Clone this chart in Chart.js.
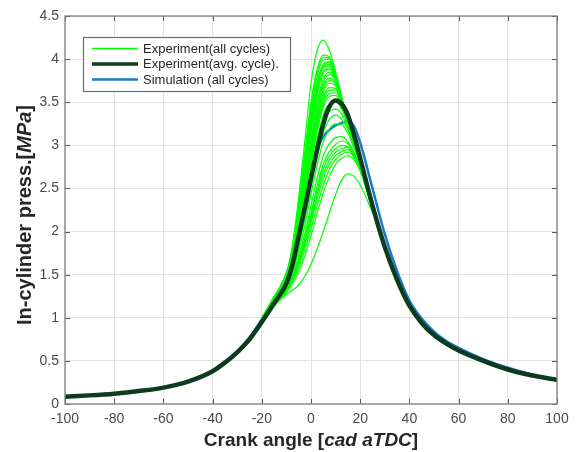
<!DOCTYPE html>
<html>
<head>
<meta charset="utf-8">
<script src="https://cdn.jsdelivr.net/npm/chart.js@4/dist/chart.umd.min.js"></script>
<style>
  html, body { margin: 0; padding: 0; background: #ffffff; }
  #wrap { width: 577px; height: 452px; }
</style>
</head>
<body>
<div id="wrap"><canvas id="pressChart" width="577" height="452"></canvas></div>
<script>
// crank angle grid for the full-range curves [cad aTDC]
const angles = [-100, -90, -80, -70, -60, -50, -40, -35, -30, -25, -20, -15, -10, -7.5, -5, -2.5,
    0, 2.5, 5, 7.5, 10, 12.5, 15, 17.5, 20, 25, 30, 35, 40, 45, 50, 55, 60, 70, 80, 90, 100];

// averaged experimental cycle [MPa]
const avgCycle = [0.085, 0.10, 0.12, 0.15, 0.19, 0.26, 0.38, 0.48, 0.60, 0.75, 0.95, 1.17, 1.40, 1.62, 1.95, 2.28,
    2.62, 2.95, 3.25, 3.45, 3.52, 3.48, 3.35, 3.12, 2.85, 2.30, 1.82, 1.44, 1.14, 0.94, 0.80, 0.70, 0.62, 0.50, 0.40, 0.33, 0.28];

// simulation [MPa]
const simCycle = [0.085, 0.10, 0.12, 0.15, 0.19, 0.26, 0.38, 0.48, 0.61, 0.77, 0.98, 1.22, 1.50, 1.72, 2.02, 2.36,
    2.68, 2.95, 3.10, 3.18, 3.23, 3.26, 3.28, 3.22, 3.03, 2.50, 1.97, 1.54, 1.20, 0.99, 0.84, 0.73, 0.65, 0.52, 0.42, 0.34, 0.28];

// combustion window for the single measured cycles
const cycleAngles = [-20, -15, -10, -7.5, -5, -2.5, 0, 2.5, 5, 7.5, 10, 12.5, 15, 17.5, 20, 25];

// single measured cycles [MPa]
const cycles = [
    [1.00, 1.25, 1.52, 1.85, 2.40, 3.05, 3.72, 4.10, 4.22, 4.10, 3.85, 3.55, 3.25, 3.00, 2.80, 2.28],
    [1.00, 1.24, 1.50, 1.82, 2.32, 2.92, 3.50, 3.88, 4.05, 4.02, 3.82, 3.52, 3.24, 3.00, 2.80, 2.28],
    [1.00, 1.24, 1.50, 1.81, 2.30, 2.89, 3.46, 3.85, 4.02, 4.01, 3.82, 3.53, 3.24, 3.00, 2.80, 2.28],
    [0.99, 1.23, 1.49, 1.79, 2.26, 2.84, 3.40, 3.80, 3.99, 4.00, 3.83, 3.54, 3.25, 3.00, 2.80, 2.28],
    [0.99, 1.22, 1.48, 1.76, 2.20, 2.76, 3.32, 3.72, 3.94, 3.97, 3.82, 3.55, 3.26, 3.01, 2.81, 2.28],
    [0.99, 1.23, 1.48, 1.77, 2.22, 2.78, 3.33, 3.73, 3.93, 3.96, 3.81, 3.55, 3.26, 3.01, 2.81, 2.28],
    [0.98, 1.22, 1.47, 1.74, 2.16, 2.70, 3.25, 3.66, 3.90, 3.94, 3.80, 3.54, 3.26, 3.01, 2.81, 2.28],
    [0.99, 1.22, 1.47, 1.75, 2.18, 2.72, 3.27, 3.68, 3.90, 3.92, 3.79, 3.54, 3.26, 3.01, 2.81, 2.28],
    [0.98, 1.21, 1.46, 1.72, 2.12, 2.63, 3.16, 3.58, 3.84, 3.90, 3.79, 3.54, 3.26, 3.01, 2.81, 2.28],
    [0.98, 1.21, 1.46, 1.73, 2.13, 2.65, 3.19, 3.61, 3.85, 3.88, 3.77, 3.53, 3.26, 3.01, 2.81, 2.28],
    [0.98, 1.21, 1.45, 1.70, 2.08, 2.56, 3.07, 3.50, 3.77, 3.85, 3.77, 3.54, 3.26, 3.02, 2.82, 2.29],
    [0.98, 1.21, 1.45, 1.69, 2.06, 2.53, 3.03, 3.46, 3.73, 3.82, 3.75, 3.53, 3.26, 3.02, 2.82, 2.29],
    [0.97, 1.20, 1.44, 1.68, 2.04, 2.50, 2.99, 3.41, 3.69, 3.78, 3.72, 3.52, 3.26, 3.02, 2.82, 2.29],
    [0.97, 1.20, 1.44, 1.67, 2.02, 2.47, 2.95, 3.37, 3.65, 3.75, 3.71, 3.52, 3.26, 3.02, 2.82, 2.29],
    [0.97, 1.20, 1.43, 1.66, 2.00, 2.44, 2.91, 3.33, 3.61, 3.72, 3.69, 3.51, 3.26, 3.02, 2.82, 2.29],
    [0.97, 1.20, 1.43, 1.65, 1.98, 2.41, 2.87, 3.28, 3.56, 3.67, 3.66, 3.50, 3.26, 3.02, 2.82, 2.29],
    [0.97, 1.19, 1.42, 1.64, 1.96, 2.38, 2.83, 3.24, 3.52, 3.64, 3.64, 3.49, 3.26, 3.02, 2.82, 2.29],
    [0.97, 1.19, 1.42, 1.63, 1.95, 2.35, 2.80, 3.20, 3.48, 3.60, 3.61, 3.47, 3.25, 3.02, 2.82, 2.29],
    [0.96, 1.19, 1.41, 1.62, 1.93, 2.32, 2.76, 3.16, 3.44, 3.57, 3.58, 3.46, 3.25, 3.02, 2.82, 2.29],
    [0.96, 1.18, 1.40, 1.60, 1.89, 2.26, 2.68, 3.07, 3.35, 3.48, 3.50, 3.42, 3.24, 3.02, 2.82, 2.29],
    [0.96, 1.18, 1.39, 1.58, 1.86, 2.20, 2.60, 2.98, 3.25, 3.39, 3.42, 3.36, 3.21, 3.00, 2.81, 2.29],
    [0.95, 1.17, 1.38, 1.56, 1.82, 2.14, 2.52, 2.88, 3.15, 3.30, 3.35, 3.30, 3.18, 2.99, 2.80, 2.29],
    [0.95, 1.16, 1.37, 1.54, 1.78, 2.07, 2.43, 2.77, 3.04, 3.19, 3.25, 3.24, 3.14, 2.97, 2.79, 2.29],
    [0.95, 1.16, 1.35, 1.50, 1.72, 1.98, 2.30, 2.62, 2.88, 3.02, 3.09, 3.10, 3.04, 2.92, 2.76, 2.28],
    [0.94, 1.15, 1.34, 1.48, 1.68, 1.93, 2.22, 2.53, 2.78, 2.93, 3.01, 3.05, 3.02, 2.90, 2.75, 2.27],
    [0.94, 1.15, 1.33, 1.47, 1.66, 1.90, 2.18, 2.48, 2.73, 2.88, 2.96, 3.00, 2.98, 2.88, 2.74, 2.27],
    [0.94, 1.14, 1.32, 1.46, 1.64, 1.87, 2.14, 2.43, 2.67, 2.83, 2.92, 2.96, 2.98, 2.88, 2.74, 2.27],
    [0.94, 1.14, 1.32, 1.45, 1.62, 1.84, 2.10, 2.38, 2.62, 2.78, 2.88, 2.93, 2.95, 2.87, 2.73, 2.27],
    [0.94, 1.14, 1.31, 1.43, 1.58, 1.79, 2.03, 2.30, 2.54, 2.72, 2.84, 2.90, 2.92, 2.86, 2.72, 2.26],
    [0.93, 1.13, 1.29, 1.40, 1.53, 1.72, 1.95, 2.21, 2.45, 2.64, 2.78, 2.85, 2.88, 2.83, 2.70, 2.26],
    [0.95, 1.14, 1.27, 1.32, 1.38, 1.48, 1.62, 1.80, 2.00, 2.22, 2.43, 2.60, 2.67, 2.64, 2.54, 2.22]
];

const xTicks = { min: -100, max: 100, step: 20 };
const yTicks = { min: 0, max: 4.5, step: 0.5 };

const legendNames = ["Experiment(all cycles)", "Experiment(avg. cycle).", "Simulation (all cycles)"];

const GREEN = "#00ff00";
const DARK = "#0c3b1d";
const BLUE = "#1a78c8";
const AXIS = "#808080";
const FONT = "'Liberation Sans', Arial, Helvetica, sans-serif";

function toPoints(xs, ys) {
    return xs.map((x, i) => ({ x: x, y: ys[i] }));
}

const datasets = [];

// avg cycle on top, then the single cycles, simulation underneath
datasets.push({
    label: legendNames[1],
    data: toPoints(angles, avgCycle),
    borderColor: DARK,
    borderWidth: 4.5,
    order: 0
});

cycles.forEach((c, i) => {
    datasets.push({
        label: i === 0 ? legendNames[0] : "",
        data: toPoints(cycleAngles, c),
        borderColor: GREEN,
        borderWidth: 1.2,
        order: 1
    });
});

datasets.push({
    label: legendNames[2],
    data: toPoints(angles, simCycle),
    borderColor: BLUE,
    borderWidth: 2.5,
    order: 2
});

// box, inward ticks, legend and axis titles in the MATLAB look
const matlabFrame = {
    id: "matlabFrame",
    afterDraw(chart) {
        const ctx = chart.ctx;
        const a = chart.chartArea;
        const xs = chart.scales.x;
        const ys = chart.scales.y;
        ctx.save();

        // inward ticks
        ctx.strokeStyle = "#555555";
        ctx.lineWidth = 1;
        ctx.beginPath();
        for (let v = xTicks.min; v <= xTicks.max; v += xTicks.step) {
            const px = Math.round(xs.getPixelForValue(v)) + 0.5;
            ctx.moveTo(px, a.bottom); ctx.lineTo(px, a.bottom - 5);
            ctx.moveTo(px, a.top); ctx.lineTo(px, a.top + 5);
        }
        for (let v = yTicks.min; v <= yTicks.max + 1e-9; v += yTicks.step) {
            const py = Math.round(ys.getPixelForValue(v)) + 0.5;
            ctx.moveTo(a.left, py); ctx.lineTo(a.left + 5, py);
            ctx.moveTo(a.right, py); ctx.lineTo(a.right - 5, py);
        }
        ctx.stroke();

        // box
        ctx.strokeStyle = AXIS;
        ctx.lineWidth = 1.3;
        ctx.strokeRect(a.left, a.top, a.right - a.left, a.bottom - a.top);

        // legend
        const lx = 83, ly = 37, lw = 207, lh = 54;
        ctx.fillStyle = "#ffffff";
        ctx.fillRect(lx, ly, lw, lh);
        ctx.strokeStyle = "#6e6e6e";
        ctx.lineWidth = 1.2;
        ctx.strokeRect(lx + 0.5, ly + 0.5, lw, lh);
        const items = [
            { text: legendNames[0], color: GREEN, width: 1.5 },
            { text: legendNames[1], color: DARK, width: 3.5 },
            { text: legendNames[2], color: BLUE, width: 2.5 }
        ];
        ctx.font = "13px " + FONT;
        ctx.textBaseline = "middle";
        ctx.textAlign = "left";
        items.forEach((it, i) => {
            const y = ly + 11.5 + i * 15.5;
            ctx.strokeStyle = it.color;
            ctx.lineWidth = it.width;
            ctx.beginPath();
            ctx.moveTo(92, y); ctx.lineTo(138, y);
            ctx.stroke();
            ctx.fillStyle = "#262626";
            ctx.fillText(it.text, 143, y + 0.5);
        });

        // axis titles with italic unit parts
        const drawTitle = (parts, cx, cy, rot, size) => {
            ctx.save();
            ctx.translate(cx, cy);
            ctx.rotate(rot);
            let total = 0;
            parts.forEach(p => {
                ctx.font = (p.it ? "italic " : "") + "bold " + size + "px " + FONT;
                p.w = ctx.measureText(p.t).width;
                total += p.w;
            });
            let x = -total / 2;
            ctx.fillStyle = "#262626";
            ctx.textBaseline = "middle";
            ctx.textAlign = "left";
            parts.forEach(p => {
                ctx.font = (p.it ? "italic " : "") + "bold " + size + "px " + FONT;
                ctx.fillText(p.t, x, 0);
                x += p.w;
            });
            ctx.restore();
        };
        drawTitle([{ t: "Crank angle [" }, { t: "cad aTDC", it: true }, { t: "]" }],
            (a.left + a.right) / 2, 441, 0, 19);
        drawTitle([{ t: "In-cylinder press.[" }, { t: "MPa", it: true }, { t: "]" }],
            25, 215, -Math.PI / 2, 20);

        ctx.restore();
    }
};

new Chart(document.getElementById("pressChart").getContext("2d"), {
    type: "line",
    data: { datasets: datasets },
    options: {
        responsive: false,
        animation: false,
        events: [],
        layout: { padding: { top: 16, right: 20, left: 0, bottom: 0 } },
        elements: {
            point: { radius: 0 },
            line: { cubicInterpolationMode: "monotone", fill: false, borderCapStyle: "round", borderJoinStyle: "round" }
        },
        plugins: {
            legend: { display: false },
            tooltip: { enabled: false }
        },
        scales: {
            x: {
                type: "linear",
                min: xTicks.min,
                max: xTicks.max,
                afterFit(s) { s.height = 48; },
                ticks: {
                    stepSize: xTicks.step,
                    color: "#4a4a4a",
                    font: { family: FONT, size: 14 },
                    padding: 7,
                    maxRotation: 0
                },
                grid: { color: "#e3e3e3", drawTicks: false },
                border: { display: false }
            },
            y: {
                type: "linear",
                min: yTicks.min,
                max: yTicks.max,
                afterFit(s) { s.width = 65; },
                ticks: {
                    stepSize: yTicks.step,
                    color: "#4a4a4a",
                    font: { family: FONT, size: 14 },
                    padding: 6,
                    callback: v => String(Number(v))
                },
                grid: { color: "#e3e3e3", drawTicks: false },
                border: { display: false }
            }
        }
    },
    plugins: [matlabFrame]
});
</script>
</body>
</html>
